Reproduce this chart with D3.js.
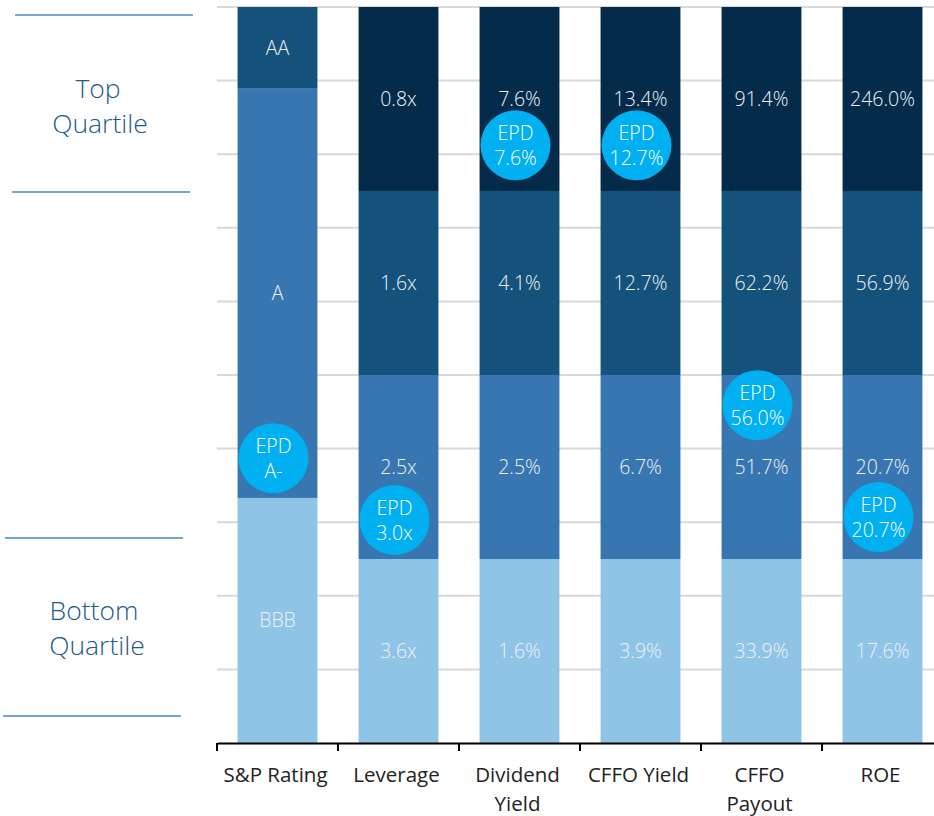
<!DOCTYPE html>
<html>
<meta charset="utf-8">
<script src="https://d3js.org/d3.v7.min.js"></script>
<style>
  body { margin: 0; background: #fff; }
  text { font-family: "Open Sans", "Noto Sans", sans-serif; }
</style>
<body>
<div id="my_dataviz"></div>
<script>

// categories along the x axis (with the wrapped lines)
var categories = ["S&P Rating", "Leverage", "Dividend Yield", "CFFO Yield", "CFFO Payout", "ROE"];
var categoryLines = [["S&P Rating"], ["Leverage"], ["Dividend", "Yield"], ["CFFO Yield"], ["CFFO", "Payout"], ["ROE"]];

// quartile labels, bottom -> top, for every metric except the rating
var quartileLabels = {
  "Leverage":       ["3.6x", "2.5x", "1.6x", "0.8x"],
  "Dividend Yield": ["1.6%", "2.5%", "4.1%", "7.6%"],
  "CFFO Yield":     ["3.9%", "6.7%", "12.7%", "13.4%"],
  "CFFO Payout":    ["33.9%", "51.7%", "62.2%", "91.4%"],
  "ROE":            ["17.6%", "20.7%", "56.9%", "246.0%"]
};
var quartileBreaks = [0, 2.5, 5, 7.5, 10];

// S&P rating bands
var ratingLabels = ["BBB", "A", "AA"];
var ratingBreaks = [0, 3.33, 8.89, 10];

// EPD marker per category
var epdLabels = ["A-", "3.0x", "7.6%", "12.7%", "56.0%", "20.7%"];
var epdPos = [3.87, 3.03, 8.12, 8.12, 4.59, 3.07];

var colors = ["#8fc4e7", "#3776b0", "#14527b", "#052b4b"];

var width = 934, height = 816;
var svg = d3.select("#my_dataviz").append("svg")
    .attr("width", width).attr("height", height);

var x = d3.scaleBand().domain(categories).range([217, 943]).paddingInner(0.34).paddingOuter(0.17);
var xTick = d3.scaleBand().domain(categories).range([217, 943]);
var y = d3.scaleLinear().domain([0, 10]).range([743, 7]);

// gridlines
svg.append("g").selectAll("line")
  .data(d3.range(1, 11))
  .enter().append("line")
    .attr("x1", 217).attr("x2", width)
    .attr("y1", function(d) { return y(d); })
    .attr("y2", function(d) { return y(d); })
    .attr("stroke", "#d9d9d9").attr("stroke-width", 2);

// build segments
var segs = [];
categories.forEach(function(c, i) {
  if (i === 0) {
    ratingLabels.forEach(function(l, j) {
      segs.push({cat: c, lo: ratingBreaks[j], hi: ratingBreaks[j + 1], label: l, level: j});
    });
  } else {
    quartileLabels[c].forEach(function(l, j) {
      segs.push({cat: c, lo: quartileBreaks[j], hi: quartileBreaks[j + 1], label: l, level: j});
    });
  }
});

svg.append("g").selectAll("rect")
  .data(segs)
  .enter().append("rect")
    .attr("x", function(d) { return x(d.cat); })
    .attr("width", x.bandwidth())
    .attr("y", function(d) { return y(d.hi); })
    .attr("height", function(d) { return y(d.lo) - y(d.hi); })
    .attr("fill", function(d) { return colors[d.level]; });

svg.append("g").selectAll("text")
  .data(segs)
  .enter().append("text")
    .attr("x", function(d) { return x(d.cat) + x.bandwidth() / 2; })
    .attr("y", function(d) { return y((d.lo + d.hi) / 2); })
    .attr("dy", "0.35em")
    .attr("text-anchor", "middle")
    .attr("font-size", "19.5px")
    .attr("font-weight", 300)
    .attr("fill", "#eef3f8")
    .text(function(d) { return d.label; });

// EPD bubbles
var epd = svg.append("g").selectAll("g")
  .data(categories)
  .enter().append("g")
    .attr("transform", function(d, i) {
      return "translate(" + (x(d) + x.bandwidth() / 2 - 4) + "," + y(epdPos[i]) + ")";
    });
epd.append("circle").attr("r", 35).attr("fill", "#00b0f0");
epd.append("text")
    .attr("text-anchor", "middle").attr("y", -12).attr("dy", "0.35em")
    .attr("font-size", "19.5px").attr("font-weight", 300).attr("fill", "#fff")
    .text("EPD");
epd.append("text")
    .attr("text-anchor", "middle").attr("y", 13).attr("dy", "0.35em")
    .attr("font-size", "19.5px").attr("font-weight", 300).attr("fill", "#fff")
    .text(function(d, i) { return epdLabels[i]; });

// x axis
var axis = svg.append("g").attr("transform", "translate(0,743)")
  .call(d3.axisBottom(xTick).tickSize(0).tickFormat(""));
axis.select(".domain").attr("stroke", "#000").attr("stroke-width", 2);
axis.selectAll(".boundary")
  .data(d3.range(categories.length + 1))
  .enter().append("line")
    .attr("x1", function(i) { return 217 + i * xTick.bandwidth(); })
    .attr("x2", function(i) { return 217 + i * xTick.bandwidth(); })
    .attr("y1", 0).attr("y2", 8)
    .attr("stroke", "#000").attr("stroke-width", 2);

var lab = svg.append("g").selectAll("text")
  .data(categories)
  .enter().append("text")
    .attr("text-anchor", "middle")
    .attr("font-size", "20.5px")
    .attr("fill", "#222")
    .attr("x", function(d) { return xTick(d) + xTick.bandwidth() / 2 - 2; });
lab.selectAll("tspan")
  .data(function(d, i) { return categoryLines[i]; })
  .enter().append("tspan")
    .attr("x", function() { return this.parentNode.getAttribute("x"); })
    .attr("y", function(d, j) { return 782 + j * 29; })
    .text(function(d) { return d; });

// quartile annotations on the left
var sideLines = [[15, 193, 15], [12, 190, 192], [5, 183, 538], [3, 181, 716]];
svg.append("g").selectAll("line")
  .data(sideLines)
  .enter().append("line")
    .attr("x1", function(d) { return d[0]; })
    .attr("x2", function(d) { return d[1]; })
    .attr("y1", function(d) { return d[2]; })
    .attr("y2", function(d) { return d[2]; })
    .attr("stroke", "#4a86c5").attr("stroke-width", 1.5);

var sideText = [{x: 98, y: 89, t: "Top"}, {x: 100, y: 124, t: "Quartile"},
                {x: 94, y: 611, t: "Bottom"}, {x: 97, y: 646, t: "Quartile"}];
svg.append("g").selectAll("text")
  .data(sideText)
  .enter().append("text")
    .attr("x", function(d) { return d.x; })
    .attr("y", function(d) { return d.y; })
    .attr("dy", "0.35em")
    .attr("text-anchor", "middle")
    .attr("font-size", "26.5px")
    .attr("font-weight", 300)
    .attr("fill", "#1f5a8a")
    .text(function(d) { return d.t; });

</script>
</body>
</html>
